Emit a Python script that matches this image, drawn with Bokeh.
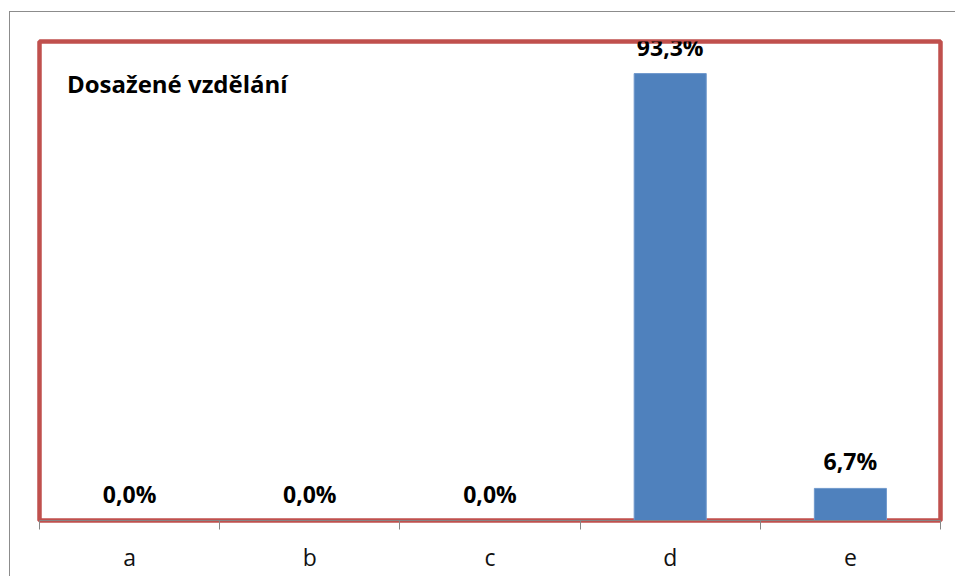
from bokeh.plotting import figure
from bokeh.models import ColumnDataSource, LabelSet, Label, FixedTicker, Range1d
from bokeh.core.properties import value
from bokeh.embed import file_html
from bokeh.resources import INLINE

categories = ["a", "b", "c", "d", "e"]
values = [0.0, 0.0, 0.0, 93.3, 6.7]
title_text = "Dosažené vzdělání"

xs = [i + 0.5 for i in range(len(categories))]
labels = [f"{v:.1f}%".replace(".", ",") for v in values]
src = ColumnDataSource(dict(x=xs, top=values, label=labels))

FONT = "Open Sans"

p = figure(width=946, height=565, output_backend="svg", toolbar_location=None,
           x_range=Range1d(0, len(categories)), y_range=Range1d(0, 100),
           y_axis_location=None, min_border_left=29, min_border_right=16,
           min_border_top=29, min_border_bottom=57)
p.styles = {"border-left": "1px solid #8c8c8c", "border-top": "1px solid #8c8c8c",
            "margin-top": "11px", "margin-left": "9px"}
p.background_fill_color = "white"
p.border_fill_color = "white"
p.outline_line_color = "#C0504D"
p.outline_line_width = 4.5
p.grid.visible = False

p.vbar(x="x", top="top", width=0.4, bottom=0, source=src,
       fill_color="#4F81BD", line_color="#6f98cc", line_width=1)

xa = p.xaxis[0]
xa.ticker = FixedTicker(ticks=xs, minor_ticks=list(range(len(categories) + 1)))
xa.major_label_overrides = {x: c for x, c in zip(xs, categories)}
xa.major_tick_line_color = None
xa.major_tick_out = 0
xa.major_tick_in = 0
xa.minor_tick_out = 9
xa.minor_tick_in = 0
xa.minor_tick_line_color = "#868686"
xa.axis_line_color = "#868686"
xa.major_label_text_font = FONT
xa.major_label_text_font_size = "23px"
xa.major_label_text_color = "#111111"
xa.major_label_standoff = 11

p.add_layout(LabelSet(x="x", y="top", text="label", source=src, y_offset=18,
                      text_align="center", text_baseline="alphabetic",
                      text_font=value(FONT), text_font_style="bold",
                      text_font_size="23px", text_color="#000000"))

p.add_layout(Label(x=0.152, y=91.2, text=title_text, text_font=FONT,
                   text_font_style="bold", text_font_size="24px",
                   text_color="#000000", text_baseline="alphabetic"))

open("out.html", "w").write(file_html(p, INLINE))
